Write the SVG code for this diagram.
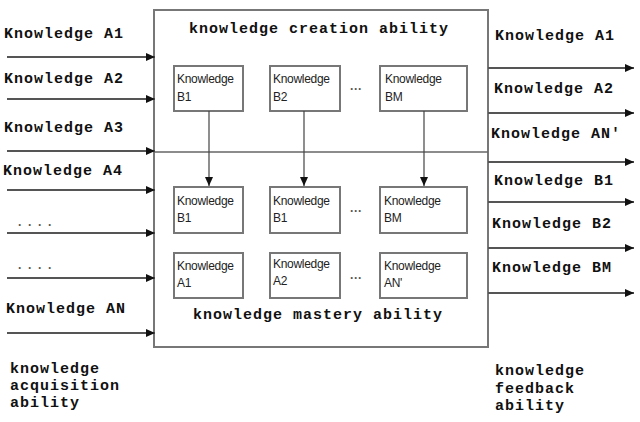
<svg xmlns="http://www.w3.org/2000/svg" width="640" height="422" viewBox="0 0 640 422">
<defs>
<marker id="ah" markerWidth="9" markerHeight="8" refX="9" refY="4" orient="auto" markerUnits="userSpaceOnUse">
<path d="M0,0 L9,4 L0,8 Z" fill="#111"/>
</marker>
<style>
.big{font-family:"Liberation Mono","DejaVu Sans Mono",monospace;font-weight:bold;font-size:15px;letter-spacing:1px;fill:#111}
.sm{font-family:"Liberation Sans",Arial,sans-serif;font-size:12px;fill:#222;letter-spacing:-0.3px}
.box{fill:#fff;stroke:#777;stroke-width:2}
.ln{stroke:#555;stroke-width:1.8;fill:none}
.dl{stroke:#444;stroke-width:1.2;fill:none}
.dots{font-family:"Liberation Sans",Arial,sans-serif;font-size:12px;fill:#555;font-weight:bold}
</style>
</defs>
<rect width="640" height="422" fill="#fff"/>
<g id="outer">
<rect x="154" y="10" width="334" height="337" fill="#fff" stroke="#777" stroke-width="2"/>
<line x1="154" y1="152" x2="488" y2="152" stroke="#666" stroke-width="1.5"/>
<text class="big" x="189" y="33">knowledge creation ability</text>
<text class="big" x="193" y="319">knowledge mastery ability</text>
</g>
<g id="nodeB1top"><rect class="box" x="174" y="66" width="69" height="45"/><text class="sm" x="177" y="83">Knowledge</text><text class="sm" x="177" y="101">B1</text></g>
<g id="nodeB2top"><rect class="box" x="270" y="66" width="70" height="45"/><text class="sm" x="273" y="83">Knowledge</text><text class="sm" x="273" y="101">B2</text></g>
<g id="nodeBMtop"><rect class="box" x="380" y="66" width="87" height="45"/><text class="sm" x="385" y="83">Knowledge</text><text class="sm" x="385" y="101">BM</text></g>
<g id="nodeB1mid"><rect class="box" x="174" y="187" width="69" height="46"/><text class="sm" x="177" y="205">Knowledge</text><text class="sm" x="177" y="222">B1</text></g>
<g id="nodeB1mid2"><rect class="box" x="270" y="187" width="70" height="46"/><text class="sm" x="273" y="205">Knowledge</text><text class="sm" x="273" y="222">B1</text></g>
<g id="nodeBMmid"><rect class="box" x="380" y="187" width="87" height="46"/><text class="sm" x="384" y="205">Knowledge</text><text class="sm" x="384" y="222">BM</text></g>
<g id="nodeA1"><rect class="box" x="174" y="253" width="69" height="45"/><text class="sm" x="177" y="270">Knowledge</text><text class="sm" x="177" y="287">A1</text></g>
<g id="nodeA2"><rect class="box" x="270" y="253" width="70" height="45"/><text class="sm" x="273" y="268">Knowledge</text><text class="sm" x="273" y="285">A2</text></g>
<g id="nodeAN"><rect class="box" x="380" y="253" width="87" height="45"/><text class="sm" x="384" y="270">Knowledge</text><text class="sm" x="384" y="287">AN'</text></g>
<g id="ellipses">
<text class="dots" x="350" y="93">···</text>
<text class="dots" x="350" y="215">···</text>
<text class="dots" x="350" y="282">···</text>
</g>
<g id="connectors">
<line class="dl" x1="209" y1="111" x2="209" y2="186" marker-end="url(#ah)"/>
<line class="dl" x1="304" y1="111" x2="304" y2="186" marker-end="url(#ah)"/>
<line class="dl" x1="424" y1="111" x2="424" y2="186" marker-end="url(#ah)"/>
<line class="ln" x1="7" y1="57" x2="155" y2="57" marker-end="url(#ah)"/>
<line class="ln" x1="7" y1="99" x2="155" y2="99" marker-end="url(#ah)"/>
<line class="ln" x1="7" y1="151" x2="155" y2="151" marker-end="url(#ah)"/>
<line class="ln" x1="7" y1="190" x2="155" y2="190" marker-end="url(#ah)"/>
<line class="ln" x1="7" y1="233" x2="155" y2="233" marker-end="url(#ah)"/>
<line class="ln" x1="7" y1="278" x2="155" y2="278" marker-end="url(#ah)"/>
<line class="ln" x1="7" y1="333" x2="155" y2="333" marker-end="url(#ah)"/>
<line class="ln" x1="488" y1="68" x2="634" y2="68" marker-end="url(#ah)"/>
<line class="ln" x1="488" y1="113" x2="634" y2="113" marker-end="url(#ah)"/>
<line class="ln" x1="488" y1="162" x2="634" y2="162" marker-end="url(#ah)"/>
<line class="ln" x1="488" y1="202" x2="634" y2="202" marker-end="url(#ah)"/>
<line class="ln" x1="488" y1="248" x2="634" y2="248" marker-end="url(#ah)"/>
<line class="ln" x1="488" y1="293" x2="634" y2="293" marker-end="url(#ah)"/>
</g>
<g id="leftLabels">
<text class="big" x="4" y="38">Knowledge A1</text>
<text class="big" x="4" y="83">Knowledge A2</text>
<text class="big" x="4" y="132">Knowledge A3</text>
<text class="big" x="3" y="175">Knowledge A4</text>
<text class="dots" x="18" y="229" letter-spacing="6">····</text>
<text class="dots" x="18" y="272" letter-spacing="6">····</text>
<text class="big" x="6" y="313">Knowledge AN</text>
<text class="big" x="10" y="373">knowledge</text>
<text class="big" x="10" y="390">acquisition</text>
<text class="big" x="10" y="407">ability</text>
</g>
<g id="rightLabels">
<text class="big" x="495" y="40">Knowledge A1</text>
<text class="big" x="494" y="93">Knowledge A2</text>
<text class="big" x="491" y="138">Knowledge AN'</text>
<text class="big" x="494" y="185">Knowledge B1</text>
<text class="big" x="492" y="228">Knowledge B2</text>
<text class="big" x="492" y="272">Knowledge BM</text>
<text class="big" x="495" y="375">knowledge</text>
<text class="big" x="495" y="393">feedback</text>
<text class="big" x="495" y="410">ability</text>
</g>
</svg>
